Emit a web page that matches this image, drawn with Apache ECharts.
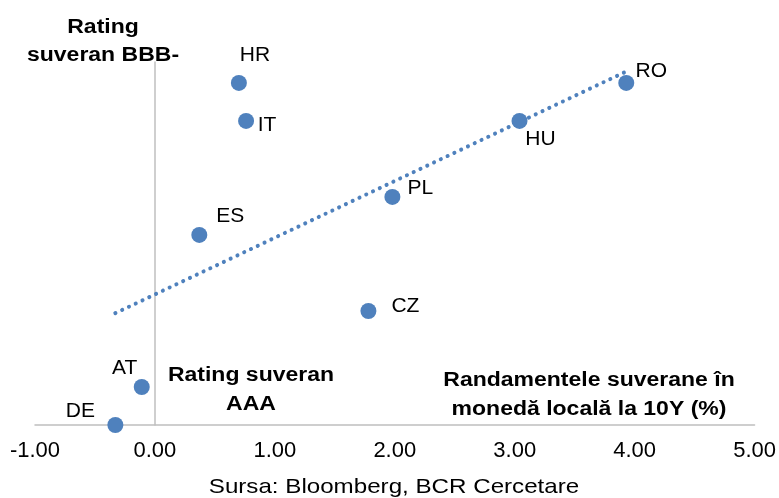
<!DOCTYPE html>
<html><head><meta charset="utf-8">
<script src="https://cdn.jsdelivr.net/npm/echarts@6/dist/echarts.min.js"></script>
<style>html,body{margin:0;padding:0;background:#fff}#c{width:779px;height:498px}</style>
</head><body><div id="c"></div>
<script>
const countries = ['DE','AT','ES','HR','IT','CZ','PL','HU','RO'];
const yields10Y = [-0.33,-0.11,0.37,0.70,0.76,1.78,1.98,3.04,3.93];
const ratingNotch = [0,1,5,9,8,3,6,8,9];
const xTicks = [-1,0,1,2,3,4,5];
const labelOffsets = {DE:[-35,-14],AT:[-17,-19],ES:[31,-19],HR:[16,-28],IT:[21,4],CZ:[37,-5],PL:[28,-9],HU:[21,18],RO:[25,-12]};

// linear regression trendline from data
const n = yields10Y.length;
const mx = yields10Y.reduce((a,b)=>a+b,0)/n;
const my = ratingNotch.reduce((a,b)=>a+b,0)/n;
let sxy=0,sxx=0;
for(let i=0;i<n;i++){sxy+=(yields10Y[i]-mx)*(ratingNotch[i]-my);sxx+=(yields10Y[i]-mx)**2;}
const slope=sxy/sxx, icpt=my-slope*mx;
const xmin=Math.min(...yields10Y), xmax=Math.max(...yields10Y);
const trend=[[xmin,icpt+slope*xmin],[xmax,icpt+slope*xmax]];

const pts = countries.map((c,i)=>({
  value:[yields10Y[i],ratingNotch[i]],
  name:c,
  label:{show:true,position:'inside',offset:labelOffsets[c],formatter:c}
}));

const F='"Liberation Sans", Arial, sans-serif';
const SX=1.15;
const chart = echarts.init(document.getElementById('c'));
chart.setOption({
  animation:false,
  grid:{left:35,right:24,top:62,bottom:73},
  xAxis:{type:'value',min:xTicks[0],max:xTicks[xTicks.length-1],interval:1,
    axisLine:{show:true,onZero:true,lineStyle:{color:'#bfbfbf',width:1.5}},
    axisTick:{show:false},splitLine:{show:false},
    axisLabel:{color:'#000',fontFamily:F,fontSize:22,margin:15,formatter:v=>v.toFixed(2)}},
  yAxis:{type:'value',min:0,max:9.55,
    axisLine:{show:true,onZero:true,lineStyle:{color:'#bfbfbf',width:1.5}},
    axisTick:{show:false},splitLine:{show:false},axisLabel:{show:false}},
  series:[
    {type:'line',data:trend,symbol:'none',silent:true,z:1,
      lineStyle:{color:'#4f81bd',width:4,type:[0.1,7.4],cap:'round'}},
    {type:'scatter',data:pts,symbolSize:16,z:2,
      itemStyle:{color:'#4f81bd',opacity:1},
      label:{color:'#000',fontFamily:F,fontSize:21}}
  ],
  graphic:[
    {type:'text',x:103,y:41,scaleX:SX,z:10,style:{text:'Rating\nsuveran BBB-',fill:'#000',font:'bold 20px '+F,textAlign:'center',textVerticalAlign:'middle',lineHeight:28}},
    {type:'text',x:251,y:390,scaleX:SX,z:10,style:{text:'Rating suveran\nAAA',fill:'#000',font:'bold 20px '+F,textAlign:'center',textVerticalAlign:'middle',lineHeight:29}},
    {type:'text',x:589,y:395,scaleX:SX,z:10,style:{text:'Randamentele suverane în\nmonedă locală la 10Y (%)',fill:'#000',font:'bold 20px '+F,textAlign:'center',textVerticalAlign:'middle',lineHeight:29}},
    {type:'text',x:394,y:487,scaleX:SX,z:10,style:{text:'Sursa: Bloomberg, BCR Cercetare',fill:'#000',font:'21px '+F,textAlign:'center',textVerticalAlign:'middle'}}
  ]
});
</script></body></html>
